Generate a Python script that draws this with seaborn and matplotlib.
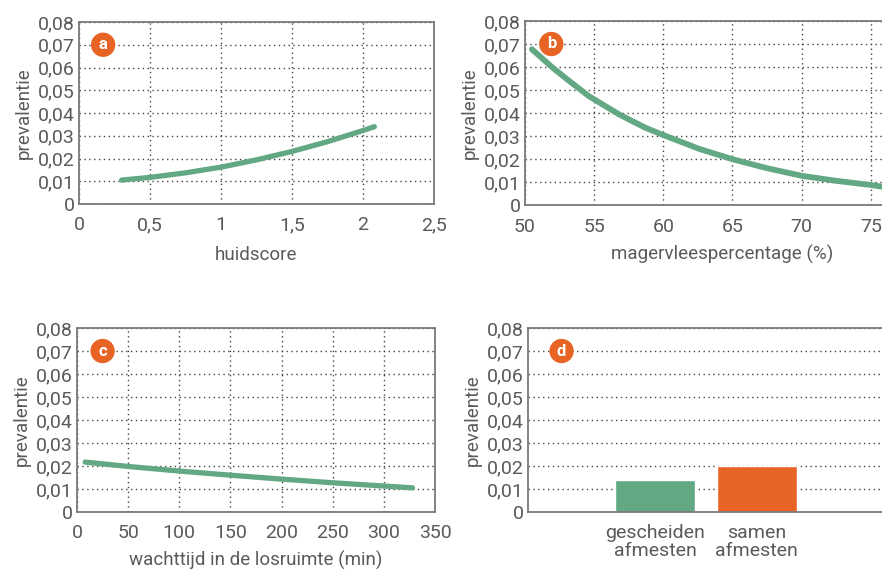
import numpy as np
import pandas as pd
import seaborn as sns
import matplotlib.pyplot as plt
from matplotlib.ticker import FuncFormatter

# data
huid_x = [0.3, 0.5, 0.75, 1.0, 1.25, 1.5, 1.75, 2.0, 2.08]
huid_y = [0.0105, 0.0117, 0.0137, 0.0162, 0.0194, 0.0231, 0.0274, 0.0323, 0.0340]

mager_x = [50.5, 52, 53.2, 54.6, 56.8, 58.7, 60, 62.6, 65, 67.5, 70, 72.5, 75, 76]
mager_y = [0.0677, 0.0597, 0.0539, 0.0474, 0.0394, 0.0336, 0.0304, 0.0244,
           0.0199, 0.0160, 0.0127, 0.0105, 0.0087, 0.0078]

wacht_x = [8, 50, 100, 150, 200, 250, 300, 328]
wacht_y = [0.0217, 0.0198, 0.0178, 0.0160, 0.0143, 0.0127, 0.0113, 0.0105]

afmest_cat = ["gescheiden\nafmesten", "samen\nafmesten"]
afmest_val = [0.0141, 0.0199]

GREEN = "#62a883"
ORANGE = "#e76425"
TXT = "#5a5a5a"

sns.set_style("white")
plt.rcParams["font.family"] = ["Roboto", "DejaVu Sans"]
plt.rcParams["text.color"] = TXT
plt.rcParams["axes.labelcolor"] = TXT
plt.rcParams["xtick.color"] = TXT
plt.rcParams["ytick.color"] = TXT


def comma(v, pos):
    if abs(v) < 1e-9:
        return "0"
    s = ("%.2f" % v).rstrip("0").rstrip(".")
    return s.replace(".", ",")


def style(ax, letter, lx, xgrid=True):
    ax.set_ylim(0, 0.08)
    ax.set_yticks(np.arange(0, 0.081, 0.01))
    ax.yaxis.set_major_formatter(FuncFormatter(comma))
    if xgrid:
        ax.xaxis.set_major_formatter(FuncFormatter(comma))
    ax.tick_params(length=0, labelsize=14)
    ax.tick_params(axis="y", pad=3)
    ax.tick_params(axis="x", pad=9)
    ax.grid(axis="y", linestyle=(0, (1, 2.5)), color="#444444", linewidth=1)
    if xgrid:
        ax.grid(axis="x", linestyle=(0, (1, 2.5)), color="#444444", linewidth=1)
    for s in ax.spines.values():
        s.set_color("#7a7a7a")
        s.set_linewidth(1.3)
    ax.set_ylabel("prevalentie", fontsize=13.5, labelpad=4)
    ax.text(lx, 0.07, letter, ha="center", va="center", color="white",
            fontsize=12, fontweight="bold",
            bbox=dict(boxstyle="circle,pad=0.28", fc=ORANGE, ec="none"))


fig = plt.figure(figsize=(8.82, 5.73), dpi=100)

# a
ax = fig.add_axes([79 / 882, 369 / 573, 355 / 882, 182 / 573])
sns.lineplot(x=huid_x, y=huid_y, ax=ax, color=GREEN, linewidth=3.8, solid_capstyle="round")
ax.set_xlim(0, 2.5)
ax.set_xticks(np.arange(0, 2.51, 0.5))
style(ax, "a", 0.17)
ax.set_xlabel("huidscore", fontsize=13.5, labelpad=8)

# b (cut off at the right side of the picture)
ax = fig.add_axes([525 / 882, 368 / 573, 415 / 882, 184 / 573])
sns.lineplot(x=mager_x, y=mager_y, ax=ax, color=GREEN, linewidth=4.2, solid_capstyle="round")
ax.set_xlim(50, 80)
ax.set_xticks(np.arange(50, 81, 5))
style(ax, "b", 51.9)
ax.set_xlabel("magervleespercentage (%)", fontsize=13.5)
ax.xaxis.set_label_coords(0.475, -0.215)

# c
ax = fig.add_axes([77 / 882, 61 / 573, 358 / 882, 184 / 573])
sns.lineplot(x=wacht_x, y=wacht_y, ax=ax, color=GREEN, linewidth=3.8, solid_capstyle="round")
ax.set_xlim(0, 350)
ax.set_xticks(np.arange(0, 351, 50))
style(ax, "c", 25)
ax.set_xlabel("wachttijd in de losruimte (min)", fontsize=13.5, labelpad=6)

# d
ax = fig.add_axes([528 / 882, 61 / 573, 356 / 882, 184 / 573])
df = pd.DataFrame({"cat": afmest_cat, "val": afmest_val})
sns.barplot(data=df, x="cat", y="val", hue="cat", palette=[GREEN, ORANGE],
            saturation=1, width=0.78, ax=ax, legend=False)
ax.set_xlim(-1.25, 2.25)
style(ax, "d", -0.92, xgrid=False)
ax.set_axisbelow(True)
ax.set_xlabel("")
ax.tick_params(axis="x", pad=9)
for t in ax.get_xticklabels():
    t.set_linespacing(1.0)

fig.savefig("out.png", dpi=100)
